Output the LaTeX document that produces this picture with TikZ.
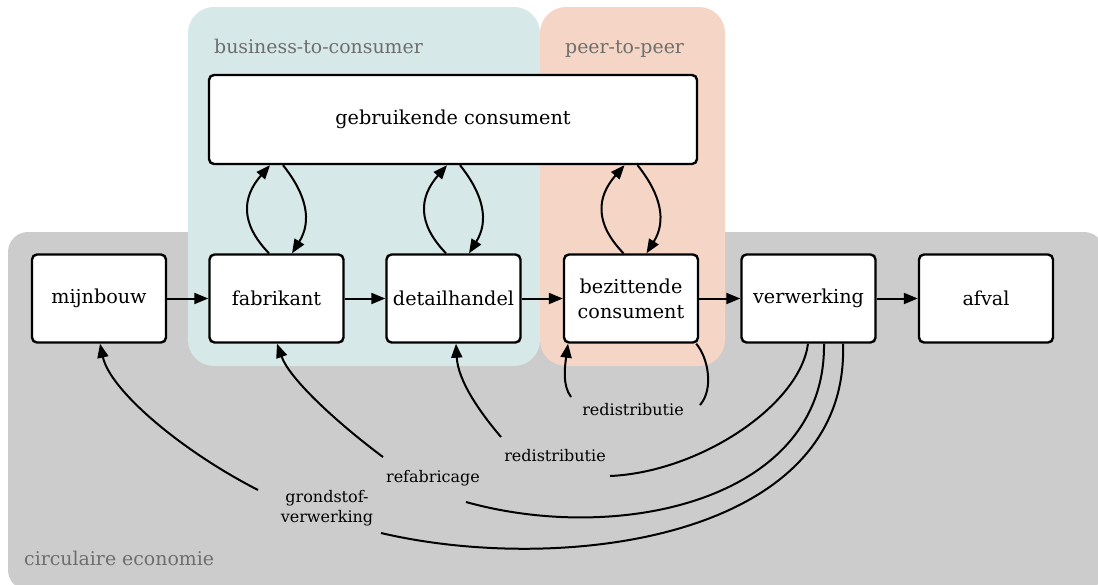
\documentclass[tikz,border=0pt]{standalone}
\usepackage{fontspec}
\setmainfont{DejaVu Serif}
\usetikzlibrary{arrows.meta}
\definecolor{bgGray}{RGB}{204,204,204}
\definecolor{bgBlue}{RGB}{214,232,231}
\definecolor{bgPeach}{RGB}{245,213,197}
\definecolor{grpText}{RGB}{110,110,110}
\begin{document}
\begin{tikzpicture}[x=1pt,y=-1pt,
  box/.style={draw=black, line width=2.4pt, rounded corners=5pt, fill=white,
    minimum width=134pt, minimum height=88pt, inner sep=2pt, align=center,
    font=\fontsize{19.2}{25}\selectfont},
  elabel/.style={font=\fontsize{16}{20}\selectfont, align=center, inner sep=1pt},
  grp/.style={font=\fontsize{18.9}{22}\selectfont, text=grpText, anchor=base west, inner sep=0pt},
  flow/.style={line width=2pt, -{Triangle[length=14pt,width=11pt]}},
  plain/.style={line width=2pt}]
\useasboundingbox (0,0) rectangle (1098,584);
% background regions
\fill[bgGray, rounded corners=20pt] (8,232) rectangle (1104,590);
\fill[bgBlue, rounded corners=26pt] (188,7) rectangle (540,366);
\fill[bgPeach, rounded corners=26pt] (540,7) rectangle (725,366);
\node[grp] (lb2c) at (214,53) {business-to-consumer};
\node[grp] (lp2p) at (565,53) {peer-to-peer};
\node[grp] (lce) at (24,565) {circulaire economie};
% nodes
\node[box, minimum width=488pt, minimum height=89pt] (gc) at (453,119.5) {gebruikende consument};
\node[box] (mijn) at (99,298.5) {mijnbouw};
\node[box] (fab) at (276.5,298.5) {fabrikant};
\node[box] (det) at (453.5,298.5) {detailhandel};
\node[box] (bez) at (631,298.5) {bezittende\\consument};
\node[box] (ver) at (808.5,298.5) {verwerking};
\node[box] (afv) at (986,298.5) {afval};
% main chain
\draw[flow] (mijn) -- (fab);
\draw[flow] (fab) -- (det);
\draw[flow] (det) -- (bez);
\draw[flow] (bez) -- (ver);
\draw[flow] (ver) -- (afv);
% loops to gebruikende consument
\foreach \n in {fab,det,bez}{
  \draw[flow] ([xshift=-7.5pt]\n.north) .. controls +(-29,-30) and +(-28,32) .. ([xshift=-6.5pt]\n.north |- gc.south);
  \draw[flow] ([xshift=6.5pt]\n.north |- gc.south) .. controls +(24,30) and +(20,-32) .. ([xshift=15.5pt]\n.north);
}
% edge labels
\node[elabel] (r1) at (633,410) {redistributie};
\node[elabel] (r2) at (555,456) {redistributie};
\node[elabel] (rf) at (433,478) {refabricage};
\node[elabel] (gv) at (327,508) {grondstof-\\verwerking};
% bezittende self loop
\coordinate (r1a) at (700,405);
\coordinate (r1b) at (571,397);
\draw[plain] ([xshift=-3pt]bez.south east) .. controls +(12,14) and +(14,-16) .. (r1a);
\draw[flow] (r1b) .. controls +(-9,-12) and +(-3,22) .. ([xshift=-63pt]bez.south);
% verwerking -> detailhandel
\coordinate (r2a) at (610,476);
\coordinate (r2b) at (501,437);
\draw[plain] ([xshift=-0.5pt]ver.south) .. controls (800,405) and (700,472) .. (r2a);
\draw[flow] (r2b) .. controls (478,410) and (458,380) .. ([xshift=2.5pt]det.south);
% verwerking -> fabrikant
\coordinate (rfa) at (466,502);
\coordinate (rfb) at (383,457);
\draw[plain] ([xshift=15.5pt]ver.south) .. controls (826,500) and (620,545) .. (rfa);
\draw[flow] (rfb) .. controls (340,425) and (290,380) .. ([xshift=0.5pt]fab.south);
% verwerking -> mijnbouw
\coordinate (gva) at (381,533);
\coordinate (gvb) at (258,490);
\draw[plain] ([xshift=34.5pt]ver.south) .. controls (850,540) and (560,575) .. (gva);
\draw[flow] (gvb) .. controls (180,450) and (110,390) .. ([xshift=1pt]mijn.south);
\end{tikzpicture}
\end{document}
